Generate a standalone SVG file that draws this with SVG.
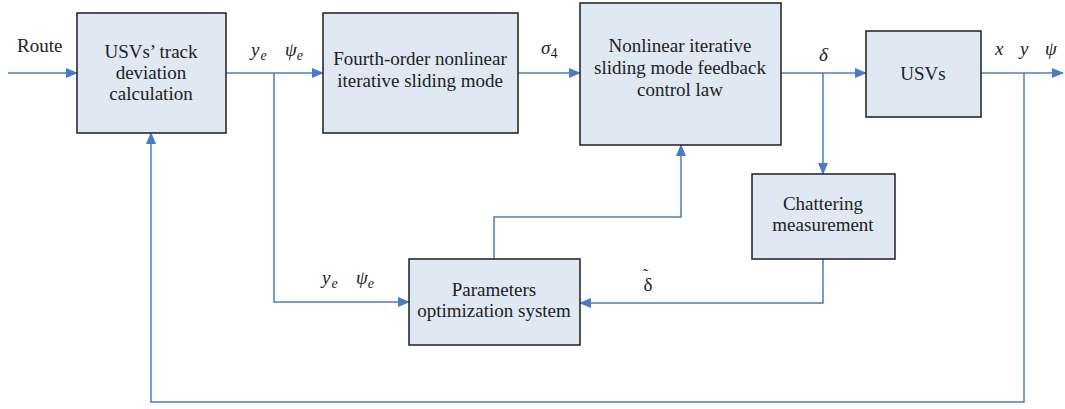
<svg xmlns="http://www.w3.org/2000/svg" width="1065" height="409" viewBox="0 0 1065 409">
<defs>
<marker id="ah" markerWidth="12" markerHeight="10" refX="11" refY="5" orient="auto" markerUnits="userSpaceOnUse">
<path d="M0,0 L12,5 L0,10 Z" fill="#4a7cc4"/>
</marker>
<style>
.box{fill:#dfe8f3;stroke:#1e1e1e;stroke-width:1.5}
text{font-family:'Liberation Serif','Times New Roman',serif;fill:#222}
.t{font-size:19px;text-anchor:middle}
.m{font-size:19px;font-style:italic}
.s{font-size:14px}
.c{fill:none;stroke:#4a7cc4;stroke-width:1.5}
</style>
</defs>
<rect width="1065" height="409" fill="#fff"/>
<g id="connectors">
<line class="c" x1="8" y1="73" x2="77" y2="73" marker-end="url(#ah)"/>
<line class="c" x1="226" y1="73" x2="323" y2="73" marker-end="url(#ah)"/>
<polyline class="c" points="274,73 274,302 409,302" marker-end="url(#ah)"/>
<line class="c" x1="518" y1="73" x2="580" y2="73" marker-end="url(#ah)"/>
<line class="c" x1="781" y1="73" x2="866" y2="73" marker-end="url(#ah)"/>
<line class="c" x1="823" y1="73" x2="823" y2="174" marker-end="url(#ah)"/>
<line class="c" x1="981" y1="73" x2="1063" y2="73" marker-end="url(#ah)"/>
<polyline class="c" points="1024,73 1024,402 151,402 151,133" marker-end="url(#ah)"/>
<polyline class="c" points="823,259 823,303 580,303" marker-end="url(#ah)"/>
<polyline class="c" points="494,259 494,217 681,217 681,145" marker-end="url(#ah)"/>
</g>
<g id="labels">
<text x="17" y="52" font-size="19">Route</text>
<text class="m" x="251" y="56">y<tspan class="s" dx="1" dy="4">e</tspan></text>
<text class="m" x="285" y="56">ψ<tspan class="s" dy="4">e</tspan></text>
<text class="m" x="541" y="54">σ<tspan class="s" font-style="normal" dy="4">4</tspan></text>
<text class="m" x="819" y="61">δ</text>
<text class="m" x="995" y="55">x</text>
<text class="m" x="1020" y="55">y</text>
<text class="m" x="1045" y="55">ψ</text>
<text class="m" x="322" y="284">y<tspan class="s" dx="1" dy="4">e</tspan></text>
<text class="m" x="356" y="284">ψ<tspan class="s" dy="4">e</tspan></text>
<text x="643" y="291" font-size="19">δ<tspan dx="-9.5" dy="-11" font-size="16">˜</tspan></text>
</g>
<g id="n1">
<rect class="box" x="77" y="13" width="149" height="120"/>
<text class="t" x="151" y="58">USVs’ track</text>
<text class="t" x="151" y="79">deviation</text>
<text class="t" x="151" y="100">calculation</text>
</g>
<g id="n2">
<rect class="box" x="323" y="13" width="195" height="120"/>
<text class="t" x="420" y="65">Fourth-order nonlinear</text>
<text class="t" x="420" y="87">iterative sliding mode</text>
</g>
<g id="n3">
<rect class="box" x="580" y="3" width="201" height="142"/>
<text class="t" x="680" y="52">Nonlinear iterative</text>
<text class="t" x="680" y="74">sliding mode feedback</text>
<text class="t" x="680" y="96">control law</text>
</g>
<g id="n4">
<rect class="box" x="866" y="31" width="115" height="86"/>
<text class="t" x="923" y="80">USVs</text>
</g>
<g id="n5">
<rect class="box" x="752" y="174" width="143" height="85"/>
<text class="t" x="823" y="210">Chattering</text>
<text class="t" x="823" y="231">measurement</text>
</g>
<g id="n6">
<rect class="box" x="409" y="259" width="171" height="86"/>
<text class="t" x="494" y="296">Parameters</text>
<text class="t" x="494" y="317">optimization system</text>
</g>
</svg>
